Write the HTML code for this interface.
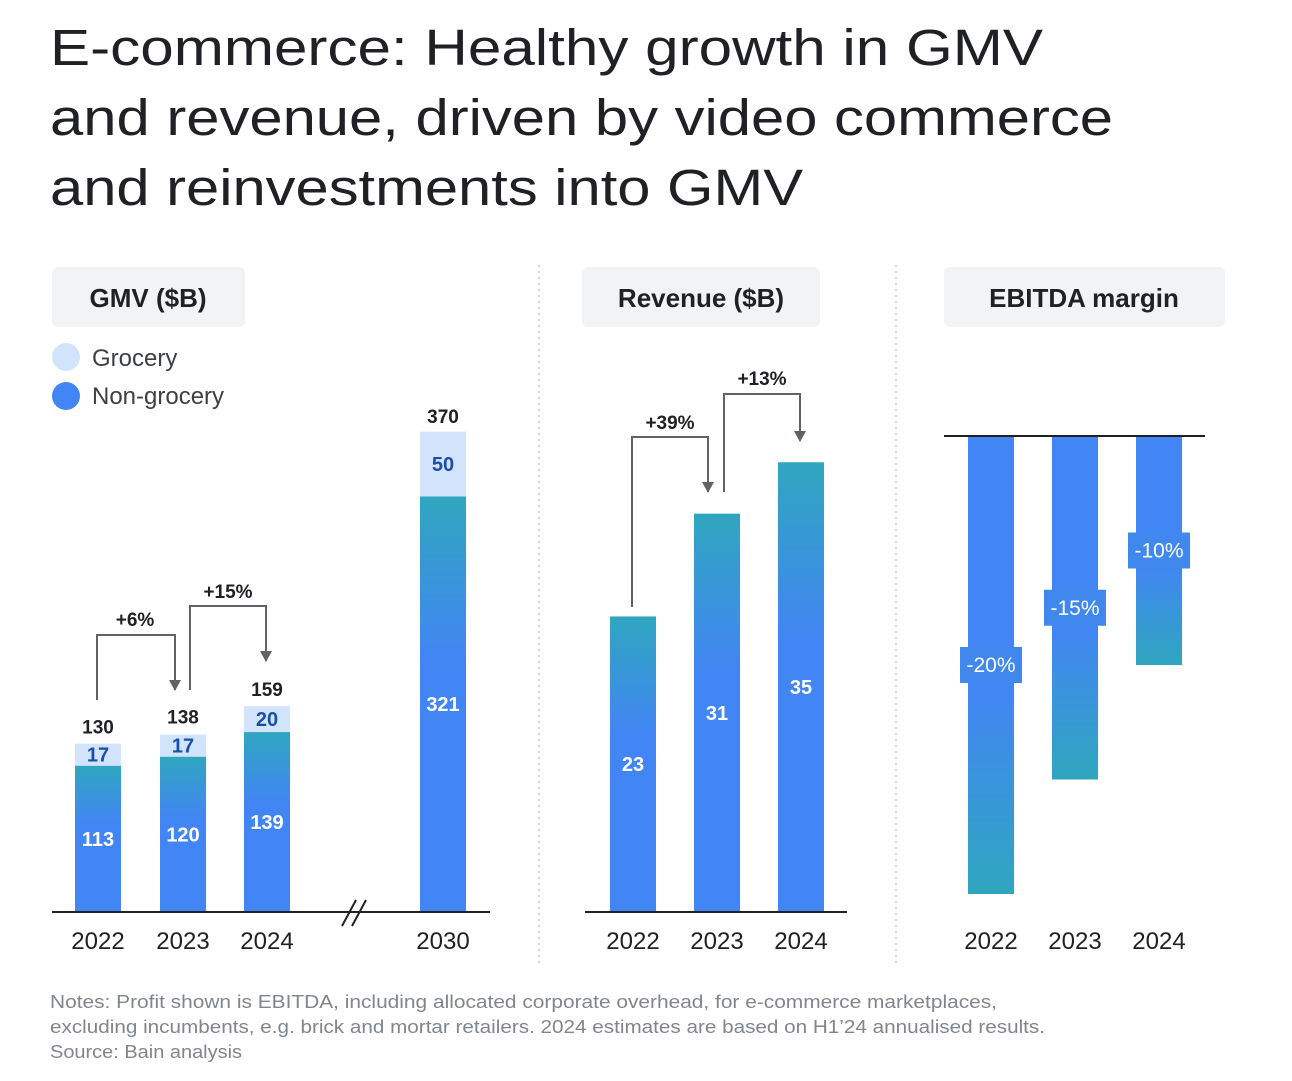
<!DOCTYPE html>
<html><head><meta charset="utf-8"><style>
body{margin:0;background:#fff;width:1292px;height:1076px;overflow:hidden;font-family:"Liberation Sans",sans-serif;}
svg text{font-family:"Liberation Sans",sans-serif;}
</style></head><body>
<svg width="1292" height="1076" xmlns="http://www.w3.org/2000/svg">
<defs>
<linearGradient id="gUp" x1="0" y1="0" x2="0" y2="1"><stop offset="0" stop-color="#2fa6bf"/><stop offset="0.4" stop-color="#4285f4"/><stop offset="1" stop-color="#4285f4"/></linearGradient>
<linearGradient id="gDn" x1="0" y1="0" x2="0" y2="1"><stop offset="0" stop-color="#4285f4"/><stop offset="0.55" stop-color="#4285f4"/><stop offset="1" stop-color="#2fa6bf"/></linearGradient>
<marker id="arr" markerWidth="12" markerHeight="12" refX="10" refY="6" orient="auto" markerUnits="userSpaceOnUse"><path d="M0,0 L11,6 L0,12 Z" fill="#5f6368"/></marker>
</defs>
<g font-size="51" fill="#202124">
<text x="50" y="65" textLength="993" lengthAdjust="spacingAndGlyphs">E-commerce: Healthy growth in GMV</text>
<text x="50" y="135" textLength="1063" lengthAdjust="spacingAndGlyphs">and revenue, driven by video commerce</text>
<text x="50" y="205" textLength="753" lengthAdjust="spacingAndGlyphs">and reinvestments into GMV</text>
</g>
<rect x="52" y="267" width="193" height="60" rx="6" fill="#f1f3f4"/>
<text x="148" y="307" text-anchor="middle" font-size="26" font-weight="bold" fill="#202124">GMV ($B)</text>
<rect x="582" y="267" width="238" height="60" rx="6" fill="#f1f3f4"/>
<text x="701" y="307" text-anchor="middle" font-size="26" font-weight="bold" fill="#202124">Revenue ($B)</text>
<rect x="944" y="267" width="281" height="60" rx="6" fill="#f1f3f4"/>
<text x="1084" y="307" text-anchor="middle" font-size="26" font-weight="bold" fill="#202124">EBITDA margin</text>
<g>
<circle cx="66" cy="357" r="14" fill="#d2e3fc"/>
<text x="92" y="366" font-size="24" fill="#3c4043">Grocery</text>
<circle cx="66" cy="396" r="14" fill="#4285f4"/>
<text x="92" y="404" font-size="24" fill="#3c4043">Non-grocery</text>
</g>
<line x1="539" y1="265" x2="539" y2="965" stroke="#c8c8c8" stroke-width="1.5" stroke-dasharray="2,4"/>
<line x1="896" y1="265" x2="896" y2="965" stroke="#c8c8c8" stroke-width="1.5" stroke-dasharray="2,4"/>
<g id="gmv"></g><g id="rev"></g><g id="ebit"></g>
<g fill="none" stroke="#5f6368" stroke-width="2">
<path d="M97,700 V635 H175 V690" marker-end="url(#arr)"/>
<path d="M190,690 V606 H266 V661" marker-end="url(#arr)"/>
<path d="M632,607 V437 H708 V492" marker-end="url(#arr)"/>
<path d="M724,492 V394 H800 V441" marker-end="url(#arr)"/>
</g>
<g font-size="19" font-weight="bold" fill="#202124" text-anchor="middle">
<text x="135" y="626">+6%</text>
<text x="228" y="598">+15%</text>
<text x="670" y="429">+39%</text>
<text x="762" y="385">+13%</text>
</g>
<path d="M342,926 L356,900 M352,926 L366,900" stroke="#202124" stroke-width="2"/>
<g font-size="18" fill="#80868b">
<text x="50" y="1008" textLength="947" lengthAdjust="spacingAndGlyphs">Notes: Profit shown is EBITDA, including allocated corporate overhead, for e-commerce marketplaces,</text>
<text x="50" y="1033" textLength="995" lengthAdjust="spacingAndGlyphs">excluding incumbents, e.g. brick and mortar retailers. 2024 estimates are based on H1’24 annualised results.</text>
<text x="50" y="1058" textLength="192" lengthAdjust="spacingAndGlyphs">Source: Bain analysis</text>
</g>
</svg>
<script>
const gmvYears=["2022","2023","2024","2030"];
const gmvNonGrocery=[113,120,139,321];
const gmvGrocery=[17,17,20,50];
const gmvTotals=[130,138,159,370];
const revYears=["2022","2023","2024"];
const revValues=[23,31,35];
const ebitYears=["2022","2023","2024"];
const ebitValues=[-20,-15,-10];

const NS="http://www.w3.org/2000/svg";
function mk(parent,tag,attrs,txt){const e=document.createElementNS(NS,tag);for(const k in attrs)e.setAttribute(k,attrs[k]);if(txt!==undefined)e.textContent=txt;parent.appendChild(e);return e;}
const W=46;
const gG=document.getElementById('gmv');
const gBase=912, gScale=479/370, gX=[98,183,267,443];
const gy=v=>gBase-v*gScale;
gmvYears.forEach((yr,i)=>{
  const cx=gX[i];
  const ng=mk(gG,'rect',{x:cx-W/2,y:gy(gmvNonGrocery[i]),width:W,height:gBase-gy(gmvNonGrocery[i]),fill:'url(#gUp)'});
  
  
  const top=gy(gmvNonGrocery[i]+gmvGrocery[i]);
  const gr=mk(gG,'rect',{x:cx-W/2,y:top,width:W,height:gy(gmvNonGrocery[i])-top,fill:'#d2e3fc'});
  
  
  const lt=mk(gG,'text',{x:cx,y:(gy(gmvNonGrocery[i])+gBase)/2+7,'text-anchor':'middle','font-size':20,'font-weight':'bold',fill:'#fff'},gmvNonGrocery[i]);
  
  
  const lg=mk(gG,'text',{x:cx,y:(top+gy(gmvNonGrocery[i]))/2+7,'text-anchor':'middle','font-size':20,'font-weight':'bold',fill:'#1a4fa8'},gmvGrocery[i]);
  
  
  const tt=mk(gG,'text',{x:cx,y:gy(gmvTotals[i])-10,'text-anchor':'middle','font-size':19,'font-weight':'bold',fill:'#202124'},gmvTotals[i]);
  
  
  const xl=mk(gG,'text',{x:cx,y:949,'text-anchor':'middle','font-size':24,fill:'#202124'},yr);
  
  
});
const ga=mk(gG,'line',{x1:52,y1:gBase,x2:490,y2:gBase,stroke:'#202124','stroke-width':2});


const rG=document.getElementById('rev');
const rBase=912, rScale=12.85, rX=[633,717,801];
const ry=v=>rBase-v*rScale;
revYears.forEach((yr,i)=>{
  const b=mk(rG,'rect',{x:rX[i]-W/2,y:ry(revValues[i]),width:W,height:rBase-ry(revValues[i]),fill:'url(#gUp)'});
  
  
  const t=mk(rG,'text',{x:rX[i],y:(ry(revValues[i])+rBase)/2+7,'text-anchor':'middle','font-size':20,'font-weight':'bold',fill:'#fff'},revValues[i]);
  
  
  const xl=mk(rG,'text',{x:rX[i],y:949,'text-anchor':'middle','font-size':24,fill:'#202124'},yr);
  
  
});
const ra=mk(rG,'line',{x1:585,y1:rBase,x2:847,y2:rBase,stroke:'#202124','stroke-width':2});


const eG=document.getElementById('ebit');
const eBase=436, eScale=22.9, eX=[991,1075,1159];
const ey=v=>eBase-v*eScale;
ebitYears.forEach((yr,i)=>{
  const b=mk(eG,'rect',{x:eX[i]-W/2,y:eBase,width:W,height:ey(ebitValues[i])-eBase,fill:'url(#gDn)'});
  
  
  const mid=(eBase+ey(ebitValues[i]))/2;
  const bx=mk(eG,'rect',{x:eX[i]-31,y:mid-18,width:62,height:36,fill:'#4088ee'});
  
  
  const t=mk(eG,'text',{x:eX[i],y:mid+7,'text-anchor':'middle','font-size':21,fill:'#fff'},ebitValues[i]+'%');
  
  
  const xl=mk(eG,'text',{x:eX[i],y:949,'text-anchor':'middle','font-size':24,fill:'#202124'},yr);
  
  
});
const ea=mk(eG,'line',{x1:944,y1:eBase,x2:1205,y2:eBase,stroke:'#202124','stroke-width':2});


</script>
</body></html>
